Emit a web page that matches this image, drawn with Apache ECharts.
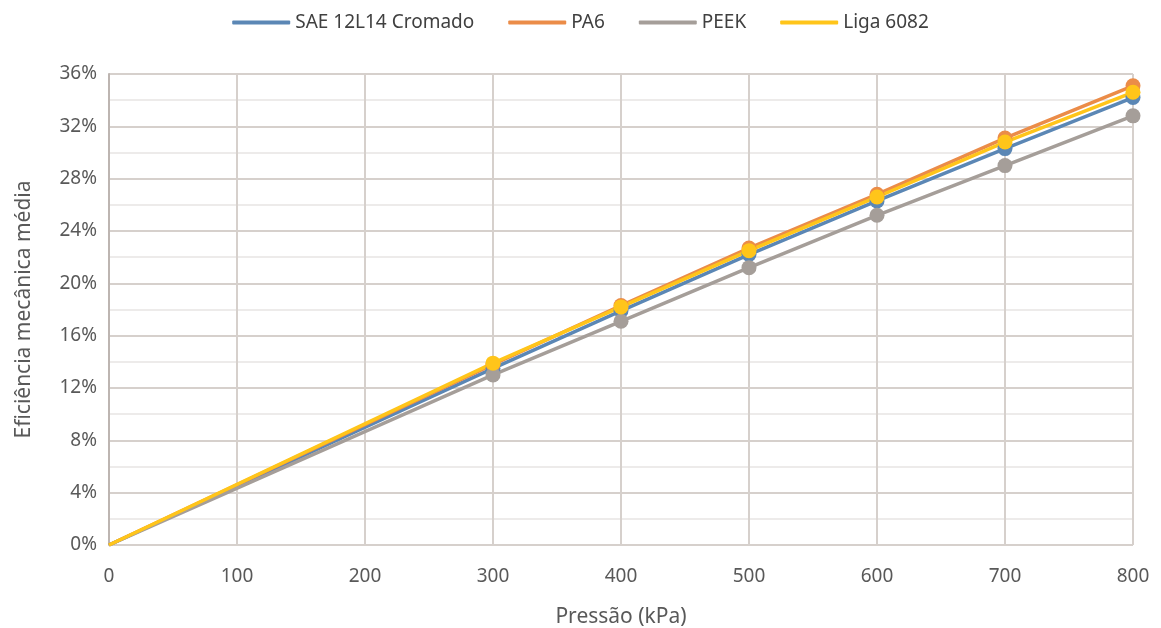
<!DOCTYPE html>
<html>
<head>
<meta charset="utf-8">
<script src="https://cdn.jsdelivr.net/npm/echarts@6/dist/echarts.min.js"></script>
<style>
  body { margin: 0; background: #fff; }
  #chart { width: 1161px; height: 628px; }
</style>
</head>
<body>
<div id="chart"></div>
<script>
// pressure (kPa) and mean mechanical efficiency (%)
var pressao = [0, 300, 400, 500, 600, 700, 800];
var sae = [0, 13.5, 17.9, 22.2, 26.3, 30.3, 34.2];
var pa6 = [0, 13.8, 18.3, 22.7, 26.8, 31.1, 35.1];
var peek = [0, 13.0, 17.1, 21.2, 25.2, 29.0, 32.8];
var liga = [0, 13.9, 18.2, 22.5, 26.6, 30.8, 34.6];

var font = 'Noto Sans';

function pts(vals) {
  return pressao.map(function (p, i) {
    if (p === 0) return { value: [p, vals[i]], symbol: 'none' };
    return [p, vals[i]];
  });
}

function serie(name, vals, color) {
  return {
    name: name,
    type: 'line',
    data: pts(vals),
    symbol: 'circle',
    symbolSize: 15,
    itemStyle: { color: color },
    lineStyle: { color: color, width: 3.5 },
    animation: false
  };
}

var chart = echarts.init(document.getElementById('chart'));
chart.setOption({
  legend: {
    top: 8,
    left: 'center',
    itemWidth: 58,
    itemHeight: 4,
    itemGap: 34,
    icon: 'roundRect',
    textStyle: { fontFamily: font, fontSize: 19, color: '#404040' },
    data: ['SAE 12L14 Cromado', 'PA6', 'PEEK', 'Liga 6082']
  },
  grid: { left: 109, right: 28, top: 74, bottom: 83, containLabel: false, outerBoundsMode: 'none' },
  xAxis: {
    type: 'value',
    min: 0, max: 800, interval: 100,
    name: 'Pressão (kPa)',
    nameLocation: 'middle',
    nameGap: 62,
    nameTextStyle: { fontFamily: font, fontSize: 21, color: '#595959' },
    axisLine: { show: false },
    axisTick: { show: false },
    axisLabel: { fontFamily: font, fontSize: 19, color: '#595959', margin: 22 },
    splitLine: { show: true, lineStyle: { color: '#D6D0CC', width: 2 } }
  },
  yAxis: {
    type: 'value',
    min: 0, max: 36, interval: 4,
    name: 'Eficiência mecânica média',
    nameLocation: 'middle',
    nameGap: 74,
    nameTextStyle: { fontFamily: font, fontSize: 21, color: '#595959' },
    axisLine: { show: true, lineStyle: { color: '#BDB5B1', width: 2 } },
    axisTick: { show: false },
    axisLabel: { fontFamily: font, fontSize: 19, color: '#595959', margin: 12, formatter: '{value}%' },
    splitLine: { show: true, lineStyle: { color: '#D6D0CC', width: 2 } },
    minorTick: { show: false, splitNumber: 2 },
    minorSplitLine: { show: true, lineStyle: { color: '#EDEBEA', width: 2 } }
  },
  series: [
    serie('SAE 12L14 Cromado', sae, '#5B87B5'),
    serie('PA6', pa6, '#EB8C48'),
    serie('PEEK', peek, '#A59E99'),
    serie('Liga 6082', liga, '#FFC51A')
  ]
});
</script>
</body>
</html>
